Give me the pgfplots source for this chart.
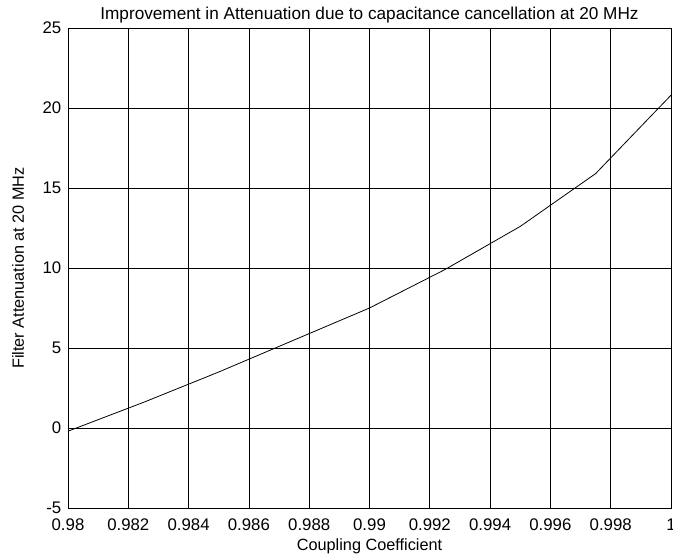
\documentclass[border=0pt]{standalone}
\usepackage{fontspec}
\setmainfont{Liberation Sans}
\usepackage{pgfplots}
\pgfplotsset{compat=1.18}
\begin{document}
\begin{tikzpicture}
\begin{axis}[
  scale only axis,
  width=452.25pt, height=360pt,
  at={(0,0)}, anchor=south west,
  xmin=0.98, xmax=1.0, ymin=-5, ymax=25,
  xtick={0.98,0.982,0.984,0.986,0.988,0.99,0.992,0.994,0.996,0.998,1.0},
  xticklabels={0.98,0.982,0.984,0.986,0.988,0.99,0.992,0.994,0.996,0.998,1},
  ytick={-5,0,5,10,15,20,25},
  yticklabels={-5,0,5,10,15,20,25},
  grid=major,
  major grid style={black, line width=0.5pt},
  axis line style={black, line width=0.5pt},
  tick style={draw=none},
  ticklabel style={font=\fontsize{12.6}{14}\selectfont},
  xticklabel style={yshift=-4.3pt},
  yticklabel style={xshift=-1.5pt},
  title={Improvement in Attenuation due to capacitance cancellation at 20 MHz},
  title style={at={(axis description cs:0.5,1)}, anchor=base, yshift=0.4pt, font=\fontsize{12.9}{14}\selectfont},
  xlabel={Coupling Coefficient},
  xlabel style={at={(axis description cs:0.5,-0.079)}, anchor=center, font=\fontsize{12.2}{14}\selectfont},
  ylabel={Filter Attenuation at 20 MHz},
  ylabel style={at={(axis description cs:-0.0829,0.5)}, anchor=center, rotate=0, font=\fontsize{12.2}{14}\selectfont},
]
\addplot[black, line width=0.6pt, mark=none] coordinates {
(0.98,-0.2) (0.9825,1.6) (0.985,3.5) (0.9875,5.5) (0.99,7.5) (0.9925,9.9) (0.995,12.6) (0.9975,15.9) (1.0,20.8)
};
\end{axis}
\pgfresetboundingbox
\useasboundingbox (-51pt,-38.25pt) rectangle (453.75pt,381pt);
\end{tikzpicture}
\end{document}
